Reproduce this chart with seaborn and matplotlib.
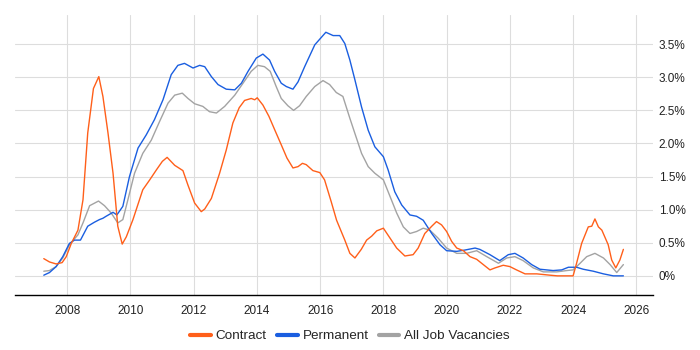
import pandas as pd
import matplotlib
matplotlib.use("Agg")
import matplotlib.pyplot as plt
from matplotlib.lines import Line2D
from matplotlib.ticker import FuncFormatter
import seaborn as sns

# values (year, percent of vacancies)
contract_years = [2007.26, 2007.44, 2007.65, 2007.84, 2007.97, 2008.13, 2008.34, 2008.50, 2008.65, 2008.83,
                  2009.0, 2009.13, 2009.29, 2009.45, 2009.60, 2009.74, 2009.87, 2010.08, 2010.39, 2010.61,
                  2010.82, 2011.01, 2011.16, 2011.40, 2011.66, 2011.82, 2012.03, 2012.24, 2012.35, 2012.56,
                  2012.82, 2013.03, 2013.24, 2013.44, 2013.61, 2013.82, 2013.93, 2014.01, 2014.19, 2014.38,
                  2014.56, 2014.77, 2014.95, 2015.14, 2015.30, 2015.44, 2015.56, 2015.77, 2015.99, 2016.14,
                  2016.35, 2016.52, 2016.78, 2016.94, 2017.10, 2017.30, 2017.47, 2017.63, 2017.79, 2018.0,
                  2018.21, 2018.42, 2018.68, 2018.94, 2019.10, 2019.31, 2019.53, 2019.68, 2019.84, 2020.0,
                  2020.16, 2020.32, 2020.53, 2020.74, 2020.95, 2021.16, 2021.37, 2021.53, 2021.79, 2022.0,
                  2022.21, 2022.48, 2022.85, 2023.27, 2023.5, 2024.0, 2024.11, 2024.27, 2024.48, 2024.59,
                  2024.69, 2024.80, 2024.91, 2025.11, 2025.22, 2025.35, 2025.48, 2025.59]
contract_values = [0.26, 0.21, 0.18, 0.20, 0.29, 0.49, 0.69, 1.15, 2.16, 2.83,
                   3.01, 2.71, 2.16, 1.55, 0.75, 0.48, 0.59, 0.85, 1.30, 1.45,
                   1.60, 1.73, 1.79, 1.67, 1.59, 1.37, 1.10, 0.97, 1.01, 1.17,
                   1.55, 1.90, 2.31, 2.54, 2.65, 2.68, 2.66, 2.69, 2.58, 2.41,
                   2.21, 1.98, 1.78, 1.63, 1.65, 1.70, 1.68, 1.59, 1.56, 1.45,
                   1.12, 0.84, 0.54, 0.34, 0.27, 0.40, 0.54, 0.60, 0.68, 0.72,
                   0.57, 0.42, 0.30, 0.32, 0.42, 0.64, 0.75, 0.82, 0.77, 0.67,
                   0.52, 0.42, 0.38, 0.29, 0.25, 0.17, 0.09, 0.12, 0.16, 0.14,
                   0.09, 0.03, 0.03, 0.01, 0.0, 0.0, 0.19, 0.49, 0.74, 0.75,
                   0.86, 0.74, 0.69, 0.47, 0.24, 0.12, 0.24, 0.40]

permanent_years = [2007.26, 2007.44, 2007.65, 2007.86, 2008.07, 2008.23, 2008.42, 2008.65, 2008.86, 2009.02,
                   2009.13, 2009.23, 2009.45, 2009.57, 2009.76, 2009.97, 2010.24, 2010.50, 2010.76, 2011.03,
                   2011.29, 2011.50, 2011.71, 2011.98, 2012.19, 2012.35, 2012.56, 2012.77, 2013.03, 2013.30,
                   2013.51, 2013.72, 2013.98, 2014.19, 2014.40, 2014.56, 2014.77, 2014.93, 2015.14, 2015.30,
                   2015.51, 2015.83, 2016.18, 2016.41, 2016.62, 2016.78, 2016.94, 2017.10, 2017.31, 2017.52,
                   2017.73, 2018.0, 2018.15, 2018.36, 2018.58, 2018.84, 2019.05, 2019.26, 2019.53, 2019.79,
                   2020.0, 2020.32, 2020.58, 2020.90, 2021.05, 2021.37, 2021.68, 2021.95, 2022.16, 2022.42,
                   2022.69, 2022.95, 2023.37, 2023.64, 2023.85, 2024.11, 2024.32, 2024.64, 2024.96, 2025.27,
                   2025.59]
permanent_values = [0.01, 0.05, 0.14, 0.29, 0.49, 0.54, 0.54, 0.75, 0.81, 0.85,
                    0.87, 0.90, 0.96, 0.92, 1.05, 1.50, 1.93, 2.13, 2.36, 2.66,
                    3.04, 3.18, 3.21, 3.14, 3.18, 3.16, 3.01, 2.89, 2.82, 2.81,
                    2.91, 3.09, 3.29, 3.35, 3.26, 3.09, 2.91, 2.86, 2.82, 2.93,
                    3.16, 3.49, 3.68, 3.63, 3.63, 3.51, 3.26, 2.96, 2.55, 2.20,
                    1.95, 1.80, 1.60, 1.27, 1.07, 0.92, 0.90, 0.84, 0.64, 0.47,
                    0.38, 0.37, 0.39, 0.42, 0.40, 0.32, 0.23, 0.32, 0.34, 0.27,
                    0.17, 0.10, 0.08, 0.09, 0.13, 0.13, 0.10, 0.07, 0.03, 0.0,
                    0.0]

all_years = [2007.26, 2007.44, 2007.65, 2007.86, 2008.07, 2008.34, 2008.50, 2008.71, 2008.99, 2009.18,
             2009.39, 2009.60, 2009.76, 2009.92, 2010.13, 2010.39, 2010.66, 2010.92, 2011.19, 2011.40,
             2011.64, 2011.82, 2012.03, 2012.29, 2012.50, 2012.72, 2012.98, 2013.30, 2013.56, 2013.82,
             2014.03, 2014.24, 2014.42, 2014.61, 2014.77, 2014.98, 2015.16, 2015.35, 2015.56, 2015.83,
             2016.09, 2016.30, 2016.51, 2016.72, 2016.94, 2017.10, 2017.31, 2017.52, 2017.73, 2018.0,
             2018.21, 2018.42, 2018.63, 2018.84, 2019.05, 2019.26, 2019.47, 2019.73, 2020.0, 2020.32,
             2020.63, 2020.95, 2021.27, 2021.64, 2021.90, 2022.16, 2022.42, 2022.74, 2023.06, 2023.48,
             2023.80, 2024.0, 2024.22, 2024.43, 2024.69, 2024.96, 2025.17, 2025.38, 2025.59]
all_values = [0.07, 0.08, 0.14, 0.27, 0.47, 0.62, 0.80, 1.06, 1.13, 1.06,
              0.95, 0.80, 0.85, 1.15, 1.55, 1.85, 2.05, 2.33, 2.61, 2.73,
              2.76, 2.68, 2.60, 2.56, 2.48, 2.46, 2.56, 2.73, 2.91, 3.09,
              3.18, 3.16, 3.09, 2.86, 2.68, 2.57, 2.50, 2.57, 2.71, 2.86,
              2.95, 2.89, 2.77, 2.71, 2.38, 2.15, 1.85, 1.65, 1.55, 1.45,
              1.20, 0.95, 0.74, 0.64, 0.67, 0.72, 0.69, 0.57, 0.42, 0.34,
              0.34, 0.38, 0.29, 0.19, 0.27, 0.29, 0.23, 0.12, 0.06, 0.06,
              0.08, 0.09, 0.19, 0.29, 0.34, 0.27, 0.17, 0.05, 0.17]

series_names = ["Contract", "Permanent", "All Job Vacancies"]
series_colors = ["#ff5f1a", "#1a5ee0", "#a3a3a3"]
x_ticks = [2008, 2010, 2012, 2014, 2016, 2018, 2020, 2022, 2024, 2026]
y_ticks = [0, 0.5, 1.0, 1.5, 2.0, 2.5, 3.0, 3.5]


def build_frame():
    parts = []
    for name, xs, ys in zip(series_names,
                            [contract_years, permanent_years, all_years],
                            [contract_values, permanent_values, all_values]):
        parts.append(pd.DataFrame({"year": xs, "share": ys, "series": name}))
    return pd.concat(parts, ignore_index=True)


def pct(v, _pos):
    if v == 0:
        return "0%"
    return f"{v:.1f}%"


df = build_frame()

sns.set_style("white")
plt.rcParams["font.family"] = ["Liberation Sans", "DejaVu Sans"]

fig = plt.figure(figsize=(7, 3.5), dpi=100)
ax = fig.add_axes([0.021, 0.157, 0.912, 0.8])

# draw grey series first so it sits behind the others
draw_order = ["All Job Vacancies", "Permanent", "Contract"]
palette = dict(zip(series_names, series_colors))
for name in draw_order:
    sns.lineplot(data=df[df["series"] == name], x="year", y="share", color=palette[name],
                 linewidth=1.0, estimator=None, sort=False, ax=ax, legend=False)

ax.set_xlim(2006.34, 2026.53)
ax.set_ylim(-0.29, 3.94)
ax.set_xticks(x_ticks)
ax.set_yticks(y_ticks)
ax.yaxis.set_major_formatter(FuncFormatter(pct))
ax.yaxis.tick_right()
ax.set_xlabel("")
ax.set_ylabel("")
ax.grid(True, color="#dddddd", linewidth=0.8)
ax.set_axisbelow(True)
for side in ["top", "left", "right"]:
    ax.spines[side].set_visible(False)
ax.spines["bottom"].set_color("black")
ax.spines["bottom"].set_linewidth(1.0)
ax.tick_params(axis="x", length=4, width=1, color="black", labelsize=8.5, pad=3, labelcolor="#222222")
ax.tick_params(axis="y", length=0, labelsize=8.5, pad=4, labelcolor="#222222")

handles = [Line2D([0], [0], color=c, linewidth=3) for c in series_colors]
fig.legend(handles, series_names, loc="center", bbox_to_anchor=(0.5, 0.04), ncol=3,
           frameon=False, fontsize=9.7, handlelength=1.55, handletextpad=0.37, columnspacing=0.74)

fig.savefig("out.png", dpi=100)
